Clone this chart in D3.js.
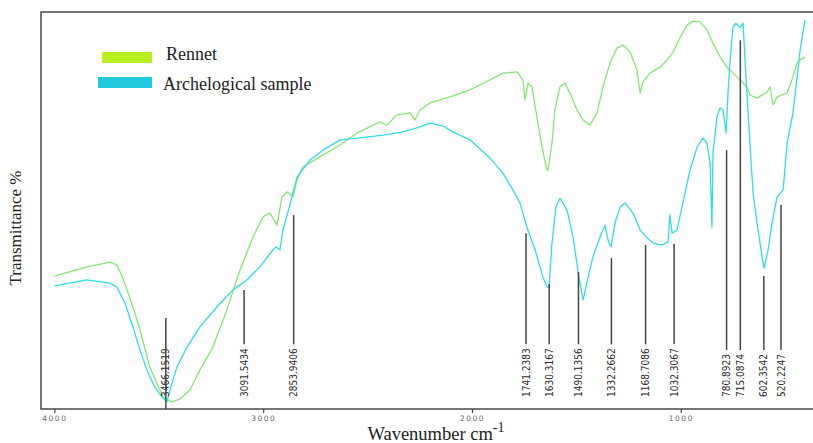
<!DOCTYPE html>
<html>
<head>
<meta charset="utf-8">
<script src="https://cdn.jsdelivr.net/npm/d3@7"></script>
<style>
  html, body { margin: 0; padding: 0; background: #fff; }
  svg { display: block; }
</style>
</head>
<body>
<div id="chart"></div>
<script>
// FTIR spectra: [wavenumber cm-1, transmittance (arbitrary %)]
const rennet = [
  [4000, 33.5], [3844, 35.8], [3734, 37.0], [3701, 36.3], [3672, 33.0], [3624, 25.7],
  [3590, 19.9], [3543, 10.6], [3509, 6.5], [3480, 3.0], [3437, 1.8], [3399, 2.5],
  [3351, 4.8], [3303, 9.8], [3241, 15.6], [3174, 24.9], [3111, 35.0], [3049, 43.3],
  [3001, 48.4], [2968, 49.4], [2934, 46.3], [2910, 53.4], [2886, 54.7], [2858, 53.4],
  [2838, 57.7], [2810, 61.0], [2728, 63.5], [2632, 66.5], [2551, 69.5], [2474, 71.5],
  [2441, 72.3], [2407, 71.5], [2359, 74.1], [2297, 74.6], [2273, 72.8], [2249, 75.3],
  [2201, 77.1], [2106, 78.6], [2010, 80.4], [1914, 82.9], [1852, 84.6], [1785, 84.9],
  [1756, 82.9], [1746, 77.8], [1732, 82.1], [1713, 81.1], [1689, 73.6], [1665, 66.0],
  [1641, 60.2], [1636, 60.2], [1617, 67.0], [1603, 75.3], [1579, 81.1], [1555, 82.1],
  [1531, 79.6], [1497, 75.3], [1468, 72.8], [1435, 71.5], [1401, 74.6], [1373, 81.1],
  [1339, 87.2], [1306, 90.9], [1277, 91.7], [1243, 89.9], [1210, 85.4], [1195, 79.6],
  [1181, 82.4], [1148, 84.6], [1100, 86.1], [1066, 87.9], [1037, 89.9], [1004, 93.5],
  [970, 96.7], [942, 97.7], [908, 97.5], [875, 95.5], [846, 92.2], [812, 88.7],
  [779, 86.1], [750, 84.6], [716, 82.9], [683, 81.1], [669, 79.1], [635, 78.3],
  [587, 79.8], [573, 81.1], [558, 76.6], [539, 78.6], [491, 79.6], [463, 83.6],
  [443, 87.2], [429, 87.9], [405, 88.7]
];

const sample = [
  [4000, 31.0], [3844, 32.5], [3734, 31.7], [3701, 30.7], [3662, 26.7], [3624, 20.7],
  [3590, 14.9], [3557, 9.8], [3519, 5.5], [3485, 3.0], [3461, 1.8], [3437, 6.5],
  [3413, 10.6], [3365, 15.6], [3303, 20.7], [3222, 25.7], [3145, 30.0], [3078, 32.5],
  [3016, 35.8], [2953, 40.1], [2939, 40.8], [2920, 40.1], [2905, 45.1], [2872, 51.4],
  [2838, 58.4], [2776, 62.7], [2714, 65.2], [2632, 67.8], [2537, 68.3], [2426, 69.0],
  [2331, 69.8], [2264, 70.8], [2201, 72.0], [2139, 71.3], [2091, 69.8], [2010, 67.8],
  [1914, 63.2], [1852, 59.4], [1804, 55.2], [1770, 51.9], [1737, 45.8], [1698, 40.1],
  [1660, 33.2], [1641, 30.7], [1631, 30.7], [1617, 41.8], [1598, 50.9], [1579, 53.1],
  [1564, 51.9], [1545, 50.1], [1516, 43.3], [1488, 33.2], [1468, 27.5], [1444, 33.2],
  [1421, 38.3], [1387, 43.3], [1363, 46.3], [1349, 42.6], [1334, 40.8], [1315, 46.9],
  [1291, 50.9], [1267, 51.9], [1229, 49.4], [1195, 45.1], [1162, 43.1], [1133, 41.8],
  [1090, 41.3], [1061, 42.1], [1052, 48.9], [1042, 44.3], [1018, 45.1], [990, 51.9],
  [956, 60.2], [922, 66.0], [894, 68.3], [875, 67.0], [860, 62.0], [851, 45.8],
  [846, 64.5], [827, 73.6], [812, 75.8], [798, 75.3], [783, 69.5], [774, 79.6],
  [764, 87.9], [750, 96.2], [736, 97.2], [716, 96.0], [702, 97.2], [688, 83.6],
  [669, 67.0], [654, 54.4], [635, 46.9], [611, 38.3], [601, 35.5], [582, 40.1],
  [563, 46.9], [539, 53.4], [510, 55.2], [491, 67.0], [463, 74.6], [443, 83.6],
  [429, 90.4], [405, 98.0]
];

// peak markers: label, wavenumber, marker top (transmittance)
const peakLabels = ['3466.1519', '3091.5434', '2853.9406', '1741.2383', '1630.3167', '1490.1356',
  '1332.2662', '1168.7086', '1032.3067', '780.8923', '715.0874', '602.3542', '520.2247'];
const peakWavenumbers = [3466.15, 3091.54, 2853.94, 1741.24, 1630.32, 1490.14,
  1332.27, 1168.71, 1032.31, 780.89, 715.09, 602.35, 520.22];
const peakTops = [22.9, 30.0, 48.9, 44.3, 31.5, 34.5, 38.0, 41.3, 41.6, 65.2, 92.9, 33.5, 51.4];

const xTicks = [4000, 3000, 2000, 1000];
const seriesNames = ['Rennet', 'Archelogical sample'];
const seriesColors = ['#86e574', '#2fdde6'];
const legendColors = ['#b8f020', '#20c9de'];

const W = 813, H = 443;
const mLeft = 41, mTop = 12, mBottom = 409;

const svg = d3.select('#chart').append('svg')
  .attr('width', W).attr('height', H);

const x = d3.scaleLinear().domain([4064, 367]).range([mLeft, W]);
const y = d3.scaleLinear().domain([0, 100]).range([mBottom, mTop]);

// frame
svg.append('rect')
  .attr('x', mLeft).attr('y', mTop)
  .attr('width', W + 20 - mLeft).attr('height', mBottom - mTop)
  .attr('fill', 'none').attr('stroke', '#4a4a4a').attr('stroke-width', 1.5);

// spectra
const line = d3.line().x(d => x(d[0])).y(d => y(d[1]));
[rennet, sample].forEach((s, i) => {
  svg.append('path')
    .datum(s)
    .attr('d', line)
    .attr('fill', 'none')
    .attr('stroke', seriesColors[i])
    .attr('stroke-width', 1.3)
    .attr('stroke-linejoin', 'round');
});

// peak markers
const peaks = peakLabels.map((l, i) => ({ label: l, wn: peakWavenumbers[i], top: peakTops[i] }));
const textBase = 397;
const gPeak = svg.append('g');
peaks.forEach((p, i) => {
  const px = x(p.wn);
  const t = gPeak.append('text')
    .attr('transform', `translate(${px},${textBase}) rotate(-90)`)
    .attr('dy', '0.35em')
    .attr('text-anchor', 'start')
    .attr('fill', '#2a2a2a')
    .style('font', '10px "Liberation Sans Narrow", "DejaVu Sans Condensed", "Liberation Sans", sans-serif')
    .text(p.label);
  const len = t.node().getComputedTextLength();
  const lineBottom = i === 0 ? mBottom : textBase - len - 4;
  gPeak.append('line')
    .attr('x1', px).attr('x2', px)
    .attr('y1', y(p.top)).attr('y2', lineBottom)
    .attr('stroke', '#444').attr('stroke-width', 1.5);
});

// x axis
const xAxis = d3.axisBottom(x).tickValues(xTicks).tickSize(4).tickFormat(d3.format('d'));
const gx = svg.append('g').attr('transform', `translate(0,${mBottom})`).call(xAxis);
gx.select('.domain').remove();
gx.selectAll('.tick line').attr('stroke', '#444').attr('stroke-width', 1.2);
gx.selectAll('.tick text')
  .attr('y', 7)
  .attr('fill', '#666')
  .style('font', '7.5px "DejaVu Sans", sans-serif')
  .style('letter-spacing', '1.5px');

// axis titles
const xt = svg.append('text')
  .attr('x', 436).attr('y', 440)
  .attr('text-anchor', 'middle')
  .attr('fill', '#222')
  .style('font', '18.5px "Liberation Serif", "Times New Roman", serif');
xt.append('tspan').text('Wavenumber cm');
xt.append('tspan').attr('dy', -8).style('font-size', '14px').text('-1');

svg.append('text')
  .attr('transform', 'translate(21,228) rotate(-90)')
  .attr('text-anchor', 'middle')
  .attr('fill', '#222')
  .style('font', '17px "Liberation Serif", "Times New Roman", serif')
  .text('Transmittance %');

// legend
const legendBoxes = [[102, 52, 50, 11], [98, 77, 54, 11]];
const legendText = [[166, 60], [163, 90]];
seriesNames.forEach((n, i) => {
  const b = legendBoxes[i];
  svg.append('rect')
    .attr('x', b[0]).attr('y', b[1]).attr('width', b[2]).attr('height', b[3])
    .attr('fill', legendColors[i]);
  svg.append('text')
    .attr('x', legendText[i][0]).attr('y', legendText[i][1])
    .attr('fill', '#222')
    .style('font', '18px "Liberation Serif", "Times New Roman", serif')
    .text(n);
});
</script>
</body>
</html>
